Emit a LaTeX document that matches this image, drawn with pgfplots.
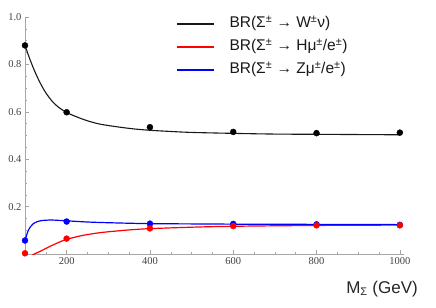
\documentclass[border=0pt]{standalone}
\usepackage{fontspec}
\setmainfont{Liberation Serif}
\newfontfamily\gill{Liberation Sans}
\usepackage{pgfplots}
\pgfplotsset{compat=1.18}
\begin{document}
\begin{tikzpicture}
\begin{axis}[name=ax, scale only axis, width=379pt, height=237pt,
  xmin=100, xmax=1010, ymin=0, ymax=1,
  axis lines*=left, axis line style={black!35, line width=0.6pt},
  tick align=inside, major tick length=4pt, minor tick length=2.2pt,
  every tick/.style={black!35, line width=0.5pt},
  xtick={200,400,600,800,1000}, minor xtick={100,150,250,300,350,450,500,550,650,700,750,850,900,950},
  ytick={0.2,0.4,0.6,0.8,1.0},
  minor ytick={0.05,0.1,0.15,0.25,0.3,0.35,0.45,0.5,0.55,0.65,0.7,0.75,0.85,0.9,0.95},
  /pgf/number format/assume math mode=true,
  /pgf/number format/1000 sep={},
  yticklabel style={/pgf/number format/fixed, /pgf/number format/fixed zerofill, /pgf/number format/precision=1},
  tick label style={font=\fontsize{10.5}{12}\selectfont, text=black!75},
  xlabel={M\textsubscript{\fontsize{11}{12}\selectfont Σ} (GeV)},
  xlabel style={at={(rel axis cs:1,0)}, anchor=base east, xshift=14pt, yshift=-39pt, font=\gill\fontsize{17}{18}\selectfont, text=black!85, inner sep=0pt},
  legend style={draw=none, fill=none, at={(rel axis cs:0.39,1.022)}, anchor=north west,
    font=\gill\fontsize{15.5}{18}\selectfont, text=black!90, row sep=3pt,
    nodes={text height=12pt, text depth=4pt},
    /tikz/every odd column/.append style={column sep=13pt}},
  legend cell align=left,
  legend image code/.code={\draw[#1, line width=1.5pt] (0pt,0pt) -- (37pt,0pt);},
  clip=true,
]
\addplot[black!90, line width=1.1pt, smooth] coordinates {
(100,0.88) (110,0.83) (120,0.785) (130,0.745) (140,0.71) (150,0.68) (165,0.645) (180,0.62) (200,0.597) (225,0.578) (250,0.562) (280,0.548) (320,0.537) (360,0.528) (400,0.522) (450,0.517) (500,0.513) (600,0.509) (700,0.506) (800,0.505) (900,0.504) (1000,0.503)};
\addlegendentry{BR(Σ\textsuperscript{±} → W\textsuperscript{±}ν)}
\addplot[red, line width=1.2pt, smooth] coordinates {
(100,0.003) (105,-0.006) (110,-0.01) (115,-0.008) (122,0) (130,0.006) (143,0.017) (155,0.028) (167,0.038) (185,0.052) (200,0.062) (220,0.071) (240,0.079) (280,0.09) (320,0.097) (360,0.103) (400,0.107) (480,0.112) (566,0.116) (700,0.119) (850,0.121) (1000,0.122)};
\addlegendentry{BR(Σ\textsuperscript{±} → Hμ\textsuperscript{±}/e\textsuperscript{±})}
\addplot[blue, line width=1.2pt, smooth] coordinates {
(100,0.057) (104,0.08) (108,0.1) (113,0.115) (120,0.128) (130,0.137) (140,0.141) (155,0.143) (170,0.143) (200,0.14) (250,0.135) (300,0.132) (400,0.128) (500,0.127) (600,0.126) (800,0.125) (1000,0.124)};
\addlegendentry{BR(Σ\textsuperscript{±} → Zμ\textsuperscript{±}/e\textsuperscript{±})}
\addplot[only marks, mark=*, mark size=3pt, black, forget plot] coordinates {
(100,0.88) (200,0.598) (400,0.535) (600,0.515) (800,0.51) (1000,0.512)};
\addplot[only marks, mark=*, mark size=3pt, blue, forget plot] coordinates {
(100,0.057) (200,0.137) (400,0.128) (600,0.127) (800,0.125) (1000,0.123)};
\addplot[only marks, mark=*, mark size=3pt, red, forget plot] coordinates {
(100,0.003) (200,0.065) (400,0.108) (600,0.118) (800,0.121) (1000,0.121)};
\end{axis}
\pgfresetboundingbox
\path[use as bounding box] ([shift={(-25pt,-53pt)}]ax.south west) rectangle ([shift={(32pt,17pt)}]ax.north east);
\end{tikzpicture}
\end{document}
